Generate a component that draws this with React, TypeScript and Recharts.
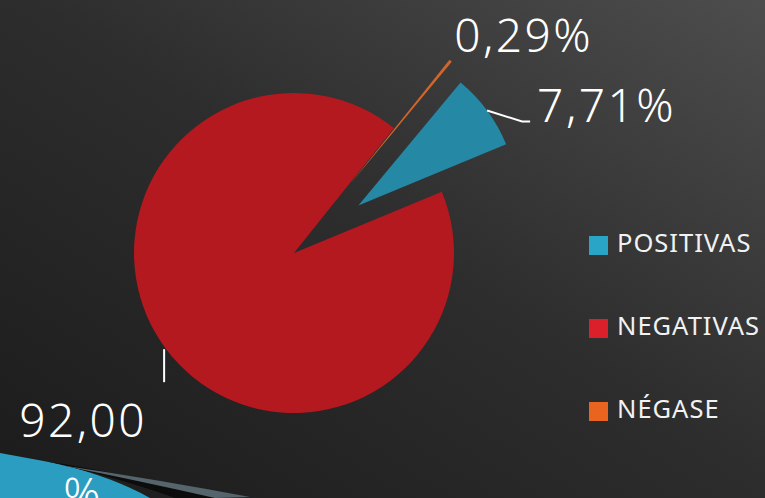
import { PieChart, Pie, Cell, Legend } from 'recharts';

const categories = ['POSITIVAS', 'NEGATIVAS', 'NÉGASE'];
const values = [7.71, 92.0, 0.29];
const pieColors = ['#2589a6', '#b3191f', '#d2662a'];
const legendColors = ['#28a5c7', '#db1f2b', '#e9641e'];
const explode = [80, 0, 88];

const START = 50.3;
const CX = 294;
const CY = 253;
const R = 160;
const RAD = Math.PI / 180;

const data = categories.map((name, i) => ({ name, value: values[i] }));
const total = values.reduce((a, b) => a + b, 0);

// mid angle of each slice, to push the exploded ones outwards
const midAngles = values.map((v, i) => {
  const before = values.slice(0, i).reduce((a, b) => a + b, 0);
  return START - ((before + v / 2) / total) * 360;
});

const fmt = (v: number) => v.toFixed(2).replace('.', ',');

const labelFont = {
  fill: '#ffffff',
  fontSize: 46,
  fontFamily: "'Noto Sans', sans-serif",
  fontWeight: 300,
  letterSpacing: 2.5,
};

const renderLabel = (k: number) => (props: any) => {
  if (props.index !== k) return null;
  const { cx, cy, midAngle, outerRadius, value } = props;
  const ox = cx + outerRadius * Math.cos(-midAngle * RAD);
  const oy = cy + outerRadius * Math.sin(-midAngle * RAD);
  if (k === 0) {
    return (
      <g>
        <polyline
          points={`${ox},${oy} ${ox + 35},${oy + 11} ${ox + 43},${oy + 11}`}
          fill="none"
          stroke="#fff"
          strokeWidth={2}
        />
        <text x={ox + 50} y={oy + 11} {...labelFont} textAnchor="start">
          {fmt(value)}%
        </text>
      </g>
    );
  }
  if (k === 2) {
    return (
      <text x={ox + 73} y={oy - 9} {...labelFont} textAnchor="middle">
        {fmt(value)}%
      </text>
    );
  }
  return (
    <g>
      <line x1={ox - 2} y1={oy} x2={ox - 2} y2={oy + 33} stroke="#fff" strokeWidth={2} />
      <text x={ox - 83} y={oy + 88} {...labelFont} textAnchor="middle">
        <tspan x={ox - 83}>{fmt(value)}</tspan>
        <tspan x={ox - 83} dy={74}>%</tspan>
      </text>
    </g>
  );
};

const LegendContent = () => (
  <div style={{ display: 'flex', flexDirection: 'column', gap: 64 }}>
    {categories.map((c, i) => (
      <div key={c} style={{ display: 'flex', alignItems: 'center', height: 19 }}>
        <div style={{ width: 19, height: 19, background: legendColors[i], marginRight: 9 }} />
        <span
          style={{
            color: '#f2f2f2',
            fontSize: 25.5,
            letterSpacing: 1,
            fontFamily: "'Noto Sans', sans-serif",
            lineHeight: '19px',
            position: 'relative',
            top: -3,
            whiteSpace: 'nowrap',
          }}
        >
          {c}
        </span>
      </div>
    ))}
  </div>
);

export default function App() {
  return (
    <div
      style={{
        position: 'absolute',
        left: 0,
        top: 0,
        width: 765,
        height: 498,
        overflow: 'hidden',
        background: 'linear-gradient(to bottom left, #4d4d4d 0%, #2d2d2d 48%, #1b1b1b 100%)',
      }}
    >
      <svg width={765} height={498} style={{ position: 'absolute', left: 0, top: 0 }}>
        <path d="M0,453 L60,464 Q115,478 150,498 L0,498 Z" fill="#2a9dc0" />
        <path d="M45,461 Q140,476 215,498 L175,498 Q120,478 45,461 Z" fill="#0c0c0c" />
        <path d="M60,465 Q160,480 250,497 L215,498 Q140,481 60,465 Z" fill="#56646b" />
      </svg>
      <div style={{ position: 'absolute', left: 0, top: 0 }}>
        <PieChart width={765} height={498} margin={{ top: 0, right: 0, bottom: 0, left: 0 }}>
          {values.map((_, k) => (
            <Pie
              key={k}
              data={data}
              dataKey="value"
              nameKey="name"
              cx={CX + explode[k] * Math.cos(midAngles[k] * RAD)}
              cy={CY - explode[k] * Math.sin(midAngles[k] * RAD)}
              outerRadius={R}
              startAngle={START}
              endAngle={START - 360}
              stroke="none"
              isAnimationActive={false}
              labelLine={false}
              label={renderLabel(k)}
            >
              {data.map((d, i) => (
                <Cell key={d.name} fill={i === k ? pieColors[i] : 'transparent'} />
              ))}
            </Pie>
          ))}
          <Legend
            content={<LegendContent />}
            wrapperStyle={{ position: 'absolute', left: 589, top: 236, width: 180 }}
          />
        </PieChart>
      </div>
    </div>
  );
}
